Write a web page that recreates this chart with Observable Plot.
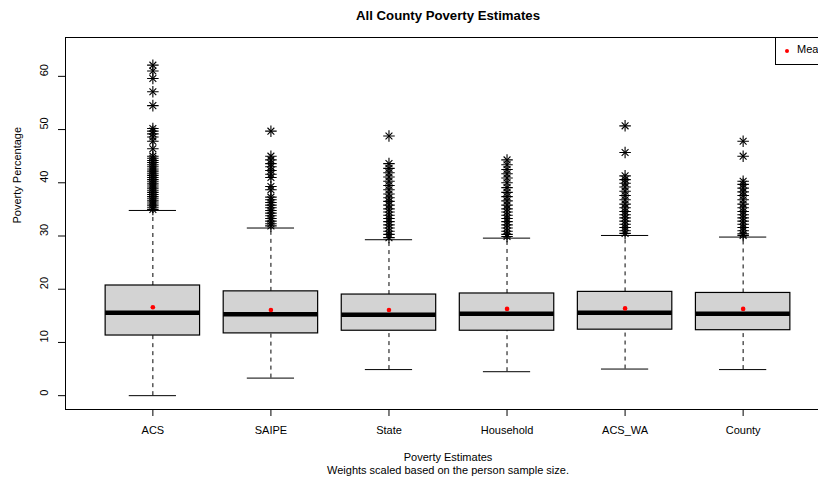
<!DOCTYPE html>
<html>
<head>
<meta charset="utf-8">
<script src="https://cdn.jsdelivr.net/npm/d3@7"></script>
<script src="https://cdn.jsdelivr.net/npm/@observablehq/plot@0.6"></script>
<style>
  html, body { margin: 0; padding: 0; background: #fff; overflow: hidden; width: 818px; height: 481px; }
  #wrap { position: relative; width: 818px; height: 481px; overflow: hidden; }
  #wrap svg { max-width: none !important; width: 830px !important; height: 481px !important; }
  #legend { position: absolute; left: 775px; top: 37px; width: 70px; height: 26px; border: 1px solid #000; background: #fff;
            font-family: "Liberation Sans", Arial, sans-serif; font-size: 11px; }
  #legend .dot { position: absolute; left: 8.5px; top: 10.5px; width: 4.5px; height: 4.5px; border-radius: 50%; background: #ff0000; }
  #legend .lab { position: absolute; left: 21px; top: 5px; }
</style>
</head>
<body>
<div id="wrap"></div>
<script>
// ---- data ----
const categories = ["ACS", "SAIPE", "State", "Household", "ACS_WA", "County"];
const lowerWhisker = [0.0, 3.3, 4.9, 4.5, 5.0, 4.9];
const q1 = [11.3, 11.7, 12.2, 12.2, 12.4, 12.3];
const median = [15.6, 15.3, 15.2, 15.4, 15.6, 15.4];
const q3 = [20.7, 19.6, 19.0, 19.2, 19.5, 19.3];
const upperWhisker = [34.8, 31.5, 29.3, 29.6, 30.1, 29.8];
const means = [16.6, 16.1, 16.1, 16.3, 16.4, 16.3];
const outliers = [
  [62.1, 61.0, 59.6, 57.1, 54.5, 50.2, 49.7, 49.2, 48.6, 47.8, 46.4, 45.0, 44.6, 44.2, 43.8, 43.4, 43.0, 42.6, 42.2, 41.8, 41.4, 41.0, 40.6, 40.2, 39.8, 39.4, 39.0, 38.6, 38.2, 37.8, 37.4, 37.0, 36.6, 36.2, 35.8, 35.4, 35.0],
  [49.7, 45.0, 44.3, 43.6, 43.0, 42.3, 41.6, 41.0, 39.3, 38.7, 37.3, 36.8, 36.3, 35.8, 35.3, 34.8, 34.3, 33.8, 33.3, 32.8, 32.3, 31.9],
  [48.8, 43.6, 42.7, 41.9, 41.1, 40.3, 39.5, 38.7, 37.9, 37.2, 36.5, 35.8, 35.1, 34.5, 33.9, 33.3, 32.7, 32.1, 31.5, 30.9, 30.3, 29.7],
  [44.3, 43.4, 42.5, 41.7, 40.9, 40.0, 39.1, 38.2, 37.4, 36.6, 35.8, 35.1, 34.5, 33.9, 33.3, 32.7, 32.1, 31.5, 30.9, 30.3, 29.9],
  [50.7, 45.7, 41.3, 40.6, 39.9, 39.2, 38.4, 37.6, 36.8, 36.0, 35.3, 34.6, 34.0, 33.4, 32.8, 32.2, 31.6, 31.0, 30.5],
  [47.8, 45.0, 40.3, 39.7, 39.0, 38.3, 37.6, 36.8, 36.0, 35.3, 34.6, 34.0, 33.4, 32.8, 32.2, 31.6, 31.0, 30.4, 30.1]
];
const yTicks = [0, 10, 20, 30, 40, 50, 60];
const title = "All County Poverty Estimates";
const xLabel = "Poverty Estimates";
const subLabel = "Weights scaled based on the person sample size.";
const yLabel = "Poverty Percentage";

// ---- derived tables ----
const boxes = categories.map((c, k) => ({
  i: k + 1, name: c, lo: lowerWhisker[k], q1: q1[k], med: median[k], q3: q3[k], hi: upperWhisker[k], mean: means[k]
}));
const outs = outliers.flatMap((vals, k) => vals.map(v => ({ i: k + 1, v })));
const idx = boxes.map(b => b.i);
const boxHalf = 0.4, capHalf = 0.2;
const font = "'Liberation Sans', Arial, Helvetica, sans-serif";

const chart = Plot.plot({
  width: 830, height: 481,
  marginTop: 37, marginBottom: 72, marginLeft: 65, marginRight: 0,
  style: { fontFamily: font, fontSize: "11px", background: "#fff", color: "#000" },
  x: { type: "linear", domain: [0.26, 6.74] },
  y: { domain: [-2.6, 67.3] },
  marks: [
    // whiskers (dashed)
    Plot.ruleX(boxes, { x: "i", y1: "q3", y2: "hi", stroke: "#000", strokeWidth: 1, strokeDasharray: "4,4" }),
    Plot.ruleX(boxes, { x: "i", y1: "lo", y2: "q1", stroke: "#000", strokeWidth: 1, strokeDasharray: "4,4" }),
    // staples
    Plot.ruleY(boxes, { y: "hi", x1: d => d.i - capHalf, x2: d => d.i + capHalf, stroke: "#000", strokeWidth: 1 }),
    Plot.ruleY(boxes, { y: "lo", x1: d => d.i - capHalf, x2: d => d.i + capHalf, stroke: "#000", strokeWidth: 1 }),
    // boxes
    Plot.rect(boxes, { x1: d => d.i - boxHalf, x2: d => d.i + boxHalf, y1: "q1", y2: "q3", fill: "#d3d3d3", stroke: "#000", strokeWidth: 1.2 }),
    // medians
    Plot.ruleY(boxes, { y: "med", x1: d => d.i - boxHalf, x2: d => d.i + boxHalf, stroke: "#000", strokeWidth: 4.5 }),
    // outliers (pch 8 : plus + times)
    Plot.dot(outs, { x: "i", y: "v", symbol: "plus", r: 3.8, stroke: "#000", strokeWidth: 1.1 }),
    Plot.dot(outs, { x: "i", y: "v", symbol: "times", r: 3.2, stroke: "#000", strokeWidth: 1.1 }),
    // means
    Plot.dot(boxes, { x: "i", y: "mean", r: 2.3, fill: "#ff0000", stroke: "none" }),
    // frame
    Plot.frame({ stroke: "#000", strokeWidth: 1 }),
    // axes
    Plot.axisX(idx, { tickSize: 7, tickFormat: () => "", label: null, stroke: "#000" }),
    Plot.text(boxes, { x: "i", text: "name", frameAnchor: "bottom", lineAnchor: "middle", dy: 21, fontSize: 11, fill: "#000" }),
    Plot.axisY(yTicks, { tickSize: 7, tickFormat: () => "", label: null, stroke: "#000" }),
    Plot.text(yTicks, { y: d => d, text: d => String(d), frameAnchor: "left", lineAnchor: "middle", dx: -21, rotate: -90, fontSize: 11, fill: "#000" }),
    // titles
    Plot.text([title], { frameAnchor: "top", lineAnchor: "middle", dy: -22, fontSize: 13.2, fontWeight: "bold", fill: "#000" }),
    Plot.text([yLabel], { frameAnchor: "left", lineAnchor: "middle", dx: -48, rotate: -90, fontSize: 11, fill: "#000" }),
    Plot.text([xLabel], { frameAnchor: "bottom", lineAnchor: "middle", dy: 48, fontSize: 11, fill: "#000" }),
    Plot.text([subLabel], { frameAnchor: "bottom", lineAnchor: "middle", dy: 61, fontSize: 11, fill: "#000" })
  ]
});
const wrap = document.getElementById("wrap");
wrap.appendChild(chart);
const legend = document.createElement("div");
legend.id = "legend";
legend.innerHTML = '<div class="dot"></div><div class="lab">Mean</div>';
wrap.appendChild(legend);
</script>
</body>
</html>
